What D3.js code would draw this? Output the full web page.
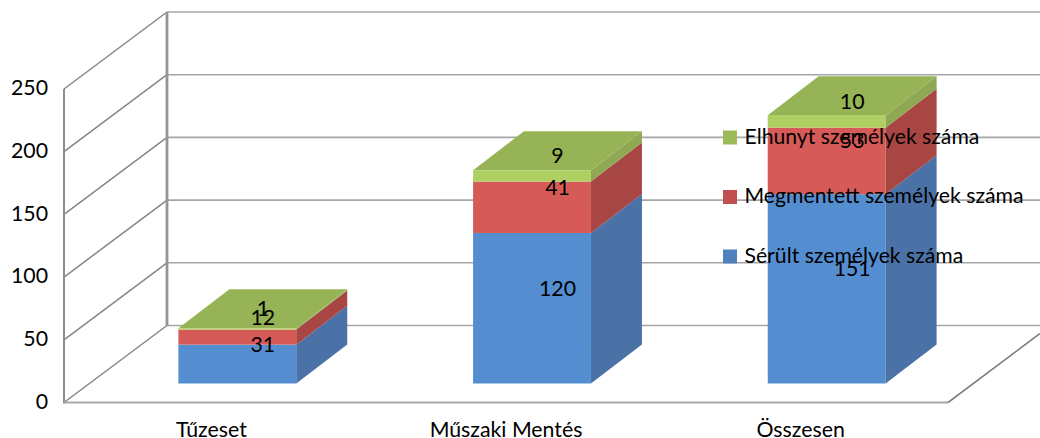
<!DOCTYPE html>
<html><head><meta charset="utf-8">
<script src="https://cdn.jsdelivr.net/npm/d3@7/dist/d3.min.js"></script>
<style>html,body{margin:0;padding:0;background:#fff;overflow:hidden}svg{display:block}text{font-family:Lato,"Open Sans",sans-serif;fill:#000}</style>
</head><body><svg id="c" width="1040" height="438"></svg>
<script>
const categories = ["Tűzeset", "Műszaki Mentés", "Összesen"];
const seriesNames = ["Sérült személyek száma", "Megmentett személyek száma", "Elhunyt személyek száma"];
const injured = [31, 120, 151];
const rescued = [12, 41, 53];
const dead = [1, 9, 10];
const yTicks = [0, 50, 100, 150, 200, 250];
const frontColors = ["#558ed0", "#d55a58", "#aed063"];
const sideColors = ["#4a72a6", "#a84644", "#8fa853"];
const topColors = ["#5d94d6", "#d9645f", "#96b455"];
const legendColors = ["#4f81bd", "#c0504d", "#9bbb59"];

const svg = d3.select("#c");
const x = d3.scaleBand().domain(categories).range([64, 948]);
const y = d3.scaleLinear().domain([0, 250]).range([402.5, 89]);
const wallDx = 103, wallDy = -77;
const barDx = 51, barDy = -39, barShift = 26, barGap = 19;
const barW = x.step() * 0.4;
const fs = 21.3;
const stack = d3.stack().keys([0, 1, 2]).value((d, k) => d[k]);
const rows = categories.map((c, i) => [injured[i], rescued[i], dead[i]]);
const layers = stack(rows);

// walls: horizontal grid on back wall, diagonals on side wall
const g = svg.append("g").attr("fill", "none");
yTicks.forEach(t => {
  g.append("line").attr("x1", 64 + wallDx).attr("x2", 1040)
    .attr("y1", y(t) + wallDy).attr("y2", y(t) + wallDy)
    .attr("stroke", "#a6a6a6").attr("stroke-width", 1.6);
  g.append("line").attr("x1", 64).attr("x2", 64 + wallDx)
    .attr("y1", y(t)).attr("y2", y(t) + wallDy)
    .attr("stroke", "#868686").attr("stroke-width", 1.5);
});
g.append("line").attr("x1", 64 + wallDx).attr("x2", 64 + wallDx)
  .attr("y1", y(250) + wallDy).attr("y2", y(0) + wallDy)
  .attr("stroke", "#949494").attr("stroke-width", 2.8);
g.append("line").attr("x1", 64).attr("x2", 64).attr("y1", y(250)).attr("y2", y(0) + 1)
  .attr("stroke", "#8c8c8c").attr("stroke-width", 2);
g.append("line").attr("x1", 64).attr("x2", 948).attr("y1", y(0)).attr("y2", y(0))
  .attr("stroke", "#a6a6a6").attr("stroke-width", 2);
g.append("line").attr("x1", 948).attr("x2", 948 + 92).attr("y1", y(0)).attr("y2", y(0) - 69)
  .attr("stroke", "#808080").attr("stroke-width", 1.6);

// bars
const floorLift = barGap;
const bx = c => x(c) + x.bandwidth() / 2 + barShift - barW / 2;
const by = v => y(v) - floorLift;
const bars = svg.append("g");
layers.forEach((layer, s) => {
  layer.forEach((d, i) => {
    const c = categories[i], L = bx(c), R = L + barW, t = by(d[1]), b = by(d[0]);
    bars.append("rect").attr("x", L).attr("y", t).attr("width", barW).attr("height", b - t).attr("fill", frontColors[s]);
    bars.append("path").attr("fill", sideColors[s])
      .attr("d", d3.line()([[R, t], [R + barDx, t + barDy], [R + barDx, b + barDy], [R, b]]) + "Z");
    if (s === layers.length - 1) {
      bars.append("path").attr("fill", topColors[s])
        .attr("d", d3.line()([[L, t], [L + barDx, t + barDy], [R + barDx, t + barDy], [R, t]]) + "Z");
    }
  });
});

// data labels
const labels = svg.append("g").attr("text-anchor", "middle").attr("font-size", fs);
layers.forEach(layer => layer.forEach((d, i) => {
  labels.append("text")
    .attr("x", bx(categories[i]) + barW / 2 + barDx / 2)
    .attr("y", by((d[0] + d[1]) / 2) + barDy / 2 - 0.5)
    .attr("dy", "0.35em").text(d[1] - d[0]);
}));

// axes
const yAxis = svg.append("g").attr("transform", "translate(64,-1)")
  .call(d3.axisLeft(y).tickValues(yTicks).tickSize(0).tickPadding(16));
const xAxis = svg.append("g").attr("transform", "translate(0," + y(0) + ")")
  .call(d3.axisBottom(x).tickSize(0).tickPadding(19));
[yAxis, xAxis].forEach(a => {
  a.select(".domain").remove();
  a.selectAll("text").attr("font-size", fs).attr("font-family", "Lato");
});

// legend
const legY = d3.scalePoint().domain(seriesNames.slice().reverse()).range([136.5, 255.5]);
const leg = svg.append("g");
seriesNames.forEach((n, i) => {
  leg.append("rect").attr("x", 723).attr("y", legY(n) - 6).attr("width", 14).attr("height", 14)
    .attr("fill", legendColors[i]);
  leg.append("text").attr("x", 744.5).attr("y", legY(n)).attr("dy", "0.35em")
    .attr("font-size", 21.2).text(n);
});
</script></body></html>
